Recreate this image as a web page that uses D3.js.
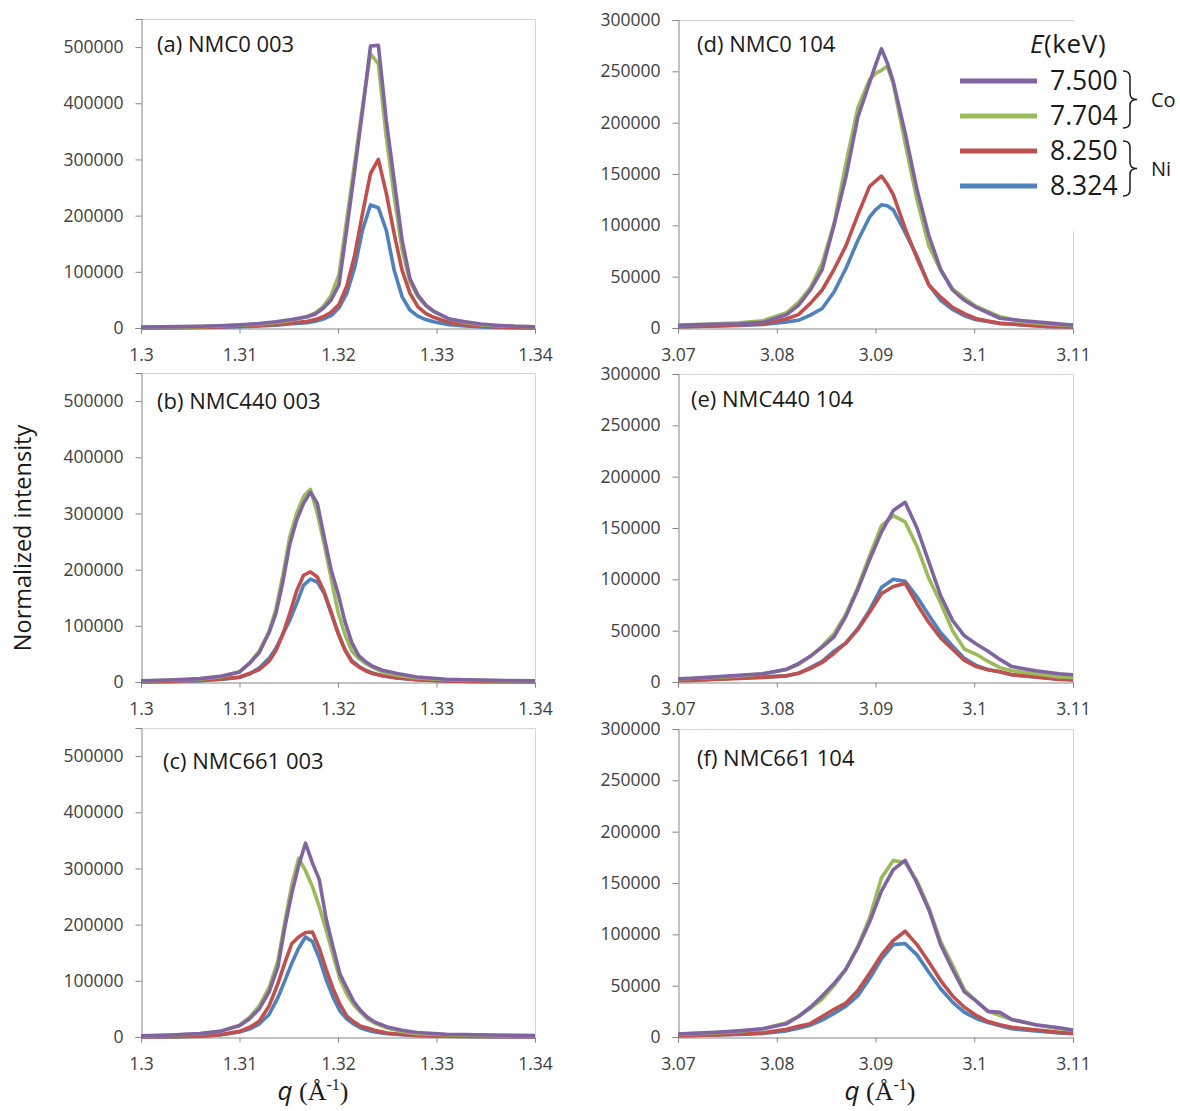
<!DOCTYPE html>
<html><head><meta charset="utf-8">
<script src="https://cdn.jsdelivr.net/npm/d3@7"></script>
<style>body{margin:0;background:#fff}svg{display:block}</style>
</head><body><svg id="chart" width="1180" height="1111"></svg>
<script>
// ---------- DATA ----------
const energies = ["7.500", "7.704", "8.250", "8.324"];
const seriesColors = ["#8064A2", "#9BBB59", "#C0504D", "#4F81BD"];

// (a) NMC0 003
const qA = [1.300,1.302,1.304,1.306,1.308,1.310,1.312,1.3137,1.3153,1.3169,1.3177,1.3185,1.3193,1.3201,1.3209,1.3217,1.3225,1.3233,1.3241,1.3249,1.3257,1.3265,1.3273,1.3281,1.3289,1.3297,1.3313,1.3329,1.3345,1.336,1.338,1.340];
const a7500 = [1500,2000,2500,3000,4000,5500,8000,11000,15000,20000,25000,35000,50000,77000,177000,281000,388000,502000,503000,370000,263000,157000,88000,59000,41000,30000,16000,11000,7000,5000,3000,2000];
const a7704 = [1000,2000,2000,2500,3500,5000,7000,10000,14000,21000,27000,38000,58000,95000,195000,295000,395000,488000,470000,340000,235000,140000,82000,56000,40000,29000,16000,10000,6000,4000,3000,2000];
const a8250 = [500,500,1000,1500,2000,3000,4500,6500,9000,12000,15000,20000,28000,42000,75000,130000,205000,275000,300000,240000,168000,103000,62000,38000,26000,19000,10000,6000,3500,2000,1000,500];
const a8324 = [0,500,500,1000,1500,2500,3500,5000,7500,9500,12000,16000,22000,36000,62000,108000,175000,219000,214000,174000,103000,56000,32000,21000,15000,11000,6000,3500,2000,1000,500,0];

// (b) NMC440 003
const qB = [1.300,1.303,1.306,1.308,1.310,1.311,1.312,1.313,1.3137,1.3144,1.3151,1.3158,1.3165,1.3172,1.3179,1.3186,1.3193,1.3200,1.3207,1.3214,1.3221,1.3228,1.3235,1.3245,1.3260,1.328,1.331,1.334,1.337,1.340];
const b7500 = [2000,3500,6000,10000,18000,33000,52000,88000,122000,178000,245000,288000,318000,338000,318000,258000,200000,158000,108000,70000,47000,36000,28000,21000,15000,9000,5000,3500,2500,2000];
const b7704 = [1500,3000,5000,9000,18000,33000,55000,90000,130000,190000,258000,300000,330000,343000,300000,245000,185000,125000,85000,55000,42000,33000,26000,18000,12000,7000,4000,3000,2000,1500];
const b8250 = [0,1000,3000,5000,9000,15000,22000,37000,56000,85000,122000,162000,190000,196000,187000,160000,125000,87000,57000,36000,27000,20000,15000,11000,7000,4000,2000,1000,500,500];
const b8324 = [0,1000,2500,4500,8000,14000,25000,42000,60000,85000,110000,140000,172000,183000,178000,158000,122000,88000,58000,38000,28000,21000,16000,11000,7000,4000,2000,1000,500,0];

// (c) NMC661 003
const qC = [1.300,1.303,1.306,1.308,1.310,1.311,1.312,1.313,1.3139,1.3146,1.3153,1.3160,1.3167,1.3174,1.3181,1.3188,1.3195,1.3202,1.3209,1.3216,1.3223,1.3230,1.3237,1.3250,1.3265,1.328,1.331,1.334,1.337,1.340];
const c7500 = [2000,3500,6000,10000,20000,32000,50000,80000,125000,195000,255000,305000,345000,310000,280000,210000,160000,112000,87000,63000,47000,35000,27000,18000,12000,8000,5000,4000,3000,2500];
const c7704 = [1500,3000,5500,10000,21000,35000,55000,88000,135000,205000,270000,318000,296000,268000,232000,190000,146000,103000,76000,57000,44000,32000,25000,16000,10000,6000,4000,3000,2500,2000];
const c8250 = [0,500,1500,4000,10000,17000,28000,55000,95000,132000,166000,178000,186000,187000,158000,120000,86000,58000,37000,27000,19000,16000,12000,7000,4500,3000,1500,1000,500,500];
const c8324 = [0,500,1500,3500,9000,14000,23000,40000,70000,100000,131000,158000,178000,170000,140000,102000,71000,46000,32000,23000,16000,12000,9000,6000,4000,2500,1500,1000,500,0];

// (d) NMC0 104
const qD = [3.0690,3.0714,3.0738,3.0762,3.0786,3.0810,3.0822,3.0834,3.0846,3.0858,3.0870,3.0882,3.0894,3.0900,3.0906,3.0912,3.0918,3.0930,3.0942,3.0954,3.0966,3.0978,3.0990,3.1002,3.1026,3.1050,3.1074,3.1098,3.1122];
const d7500 = [2500,3000,3500,4000,5500,13000,22000,37000,57000,100000,147000,205000,239000,256000,272000,258000,240000,190000,135000,90000,57000,37000,27000,20000,9500,7000,5000,3000,4000];
const d7704 = [2000,3000,4000,5000,7000,15000,25000,39000,63000,102000,160000,214000,242000,248000,251000,255000,238000,180000,125000,80000,56000,38000,29000,21000,11000,6000,4000,2500,2000];
const d8250 = [1000,1500,2000,3000,4000,9000,13000,24000,37000,57000,80000,110000,138000,143000,148000,140000,130000,97000,68000,42000,30000,20000,14000,9000,4500,3000,1500,1000,1000];
const d8324 = [1000,1500,2000,2500,3500,6000,7500,12500,19000,35000,58000,85000,108000,115000,120000,119000,115000,93000,70000,42000,27000,18000,12000,8000,4500,3000,1500,1000,1000];

// (e) NMC440 104 and (f) NMC661 104
const qE = [3.0690,3.0714,3.0738,3.0762,3.0786,3.0810,3.0822,3.0834,3.0846,3.0858,3.0870,3.0882,3.0894,3.0906,3.0918,3.0930,3.0942,3.0954,3.0966,3.0978,3.0990,3.1002,3.1014,3.1026,3.1038,3.1062,3.1086,3.1110];
const e7500 = [3000,3500,5000,6500,8000,12500,18000,25000,34000,44000,64000,90000,119000,146000,167000,175000,150000,117000,84000,60000,45000,37000,30000,22000,15000,11000,8000,6500];
const e7704 = [2500,3500,4500,6000,8000,12000,17000,25000,35000,47000,66000,92000,123000,152000,162000,156000,132000,101000,77000,50000,32000,27000,20000,14000,11000,8000,5000,4000];
const e8250 = [1000,1500,2500,3500,4500,6000,8500,13000,19000,28000,38000,51000,68000,86000,93000,96000,76000,58000,43000,32000,21000,15000,12000,10000,7000,5000,2500,1500];
const e8324 = [1500,2000,3000,4000,5000,6000,8500,14000,20000,30000,38000,52000,70000,92000,100000,98000,83000,65000,48000,35000,23000,16000,12000,10000,7000,5000,3000,2000];

const qF = qE;
const f7500 = [2500,3500,4500,6000,8000,13000,20000,29000,40000,52000,66000,87000,112000,142000,163000,172000,150000,124000,90000,66000,44000,35000,25000,24000,17000,12000,9000,5000];
const f7704 = [2000,3000,4000,5500,8000,14000,20000,28000,37000,50000,66000,88000,116000,155000,172000,170000,152000,126000,93000,70000,46000,35000,25000,21000,17000,12000,8000,5500];
const f8250 = [1000,1500,2000,3000,4000,7500,10500,13000,20000,27000,33000,45000,62000,80000,94000,103000,90000,73000,55000,40000,29000,21000,15000,12000,9500,7000,4500,3000];
const f8324 = [1000,1500,2000,2500,3500,6000,8500,11500,16500,23000,30000,40000,57000,76000,90000,91000,80000,63000,47000,34000,24000,18000,14000,11000,8000,6000,4000,2500];

// axes
const xTicks003 = [1.30, 1.31, 1.32, 1.33, 1.34];
const xTickLabels003 = ["1.3", "1.31", "1.32", "1.33", "1.34"];
const xTicks104 = [3.07, 3.08, 3.09, 3.10, 3.11];
const xTickLabels104 = ["3.07", "3.08", "3.09", "3.1", "3.11"];
const yTicks003 = [0, 100000, 200000, 300000, 400000, 500000];
const yTicks104 = [0, 50000, 100000, 150000, 200000, 250000, 300000];

// ---------- LAYOUT ----------
const FONT = "'Open Sans', 'Liberation Sans', sans-serif";
const cols = [
  {x0: 141, x1: 535, dom: [1.30, 1.34], xt: xTicks003, xl: xTickLabels003, ymax: 550000, yt: yTicks003, h: 309},
  {x0: 678, x1: 1073, dom: [3.07, 3.11], xt: xTicks104, xl: xTickLabels104, ymax: 300000, yt: yTicks104, h: 308}
];
const rowBottoms = [328, 682, 1037];

const panels = [
  {t: "(a) NMC0 003",   c: 0, r: 0, q: qA, s: [a7500, a7704, a8250, a8324], tx: 157, ty: 52},
  {t: "(b) NMC440 003", c: 0, r: 1, q: qB, s: [b7500, b7704, b8250, b8324], tx: 157, ty: 409},
  {t: "(c) NMC661 003", c: 0, r: 2, q: qC, s: [c7500, c7704, c8250, c8324], tx: 163, ty: 769},
  {t: "(d) NMC0 104",   c: 1, r: 0, q: qD, s: [d7500, d7704, d8250, d8324], tx: 697, ty: 52},
  {t: "(e) NMC440 104", c: 1, r: 1, q: qE, s: [e7500, e7704, e8250, e8324], tx: 691, ty: 407},
  {t: "(f) NMC661 104", c: 1, r: 2, q: qF, s: [f7500, f7704, f8250, f8324], tx: 697, ty: 766}
];
const drawOrder = [3, 2, 1, 0];

const svg = d3.select("#chart");
svg.append("rect").attr("width", 1180).attr("height", 1111).attr("fill", "#fff");
const defs = svg.append("defs");

panels.forEach((p, i) => {
  const col = cols[p.c];
  const yb = rowBottoms[p.r];
  const yt = yb - col.h;
  const x = d3.scaleLinear().domain(col.dom).range([col.x0, col.x1]);
  const y = d3.scaleLinear().domain([0, col.ymax]).range([yb, yt]);
  const g = svg.append("g");

  g.append("path")
    .attr("d", `M${col.x0},${yt + 0.5}H${col.x1 + 0.5}V${yb}`)
    .attr("fill", "none").attr("stroke", "#d4d4d4").attr("stroke-width", 1);

  const ya = g.append("g").attr("transform", `translate(${col.x0 + 0.5},0)`)
    .call(d3.axisLeft(y).tickValues(col.yt).tickSize(6).tickPadding(12).tickFormat(d3.format("d")));
  const xa = g.append("g").attr("transform", `translate(0,${yb + 0.5})`)
    .call(d3.axisBottom(x).tickValues(col.xt).tickSize(5).tickPadding(15)
      .tickFormat((d, k) => col.xl[k]));
  [ya, xa].forEach(a => {
    a.select(".domain").attr("stroke", "#868686");
    a.selectAll(".tick line").attr("stroke", "#868686");
    a.selectAll("text").attr("font-family", FONT).attr("font-size", 17.5).attr("fill", "#404040");
  });

  defs.append("clipPath").attr("id", "clip" + i).append("rect")
    .attr("x", col.x0).attr("y", yt).attr("width", col.x1 - col.x0).attr("height", yb - yt + 2);

  const line = d3.line().x(d => x(d[0])).y(d => y(d[1]));
  const lg = g.append("g").attr("clip-path", `url(#clip${i})`);
  drawOrder.forEach(si => {
    const pts = p.q.map((qq, k) => [qq, p.s[si][k]]);
    lg.append("path").attr("d", line(pts))
      .attr("fill", "none").attr("stroke", seriesColors[si])
      .attr("stroke-width", 3.6).attr("stroke-linejoin", "round");
  });

  g.append("text").attr("x", p.tx).attr("y", p.ty).text(p.t)
    .attr("font-family", FONT).attr("font-size", 22).attr("fill", "#1a1a1a");
});

// y axis title
svg.append("text").attr("transform", "translate(31,538) rotate(-90)")
  .attr("text-anchor", "middle").attr("font-family", FONT).attr("font-size", 23.5)
  .attr("fill", "#1a1a1a").text("Normalized intensity");

// x axis titles
[313, 880].forEach(cx => {
  const t = svg.append("text").attr("x", cx).attr("y", 1100).attr("text-anchor", "middle")
    .attr("fill", "#1a1a1a").attr("font-size", 26);
  t.append("tspan").attr("font-family", FONT).attr("font-style", "italic").text("q");
  t.append("tspan").attr("font-family", "'Liberation Serif', serif").text(" (Å");
  t.append("tspan").attr("font-family", "'Liberation Serif', serif").attr("font-size", 16).attr("dy", -10).text("-1");
  t.append("tspan").attr("font-family", "'Liberation Serif', serif").attr("dy", 10).text(")");
});

// legend
const lg = svg.append("g");
lg.append("rect").attr("x", 948).attr("y", 22).attr("width", 190).attr("height", 209).attr("fill", "#fff");
const lt = lg.append("text").attr("x", 1030).attr("y", 53).attr("font-family", FONT)
  .attr("font-size", 26).attr("fill", "#1a1a1a").attr("letter-spacing", 0.6);
lt.append("tspan").attr("font-style", "italic").text("E");
lt.append("tspan").text("(keV)");
const legY = d3.scalePoint().domain(energies).range([81, 186]);
energies.forEach((e, k) => {
  lg.append("line").attr("x1", 960).attr("x2", 1037).attr("y1", legY(e)).attr("y2", legY(e))
    .attr("stroke", seriesColors[k]).attr("stroke-width", 5);
  lg.append("text").attr("x", 1050).attr("y", legY(e) + 9).text(e)
    .attr("font-family", FONT).attr("font-size", 26.5).attr("fill", "#1a1a1a");
});
function brace(y0, y1) {
  const xm = 1130, ym = (y0 + y1) / 2;
  return `M1123,${y0}Q${xm},${y0} ${xm},${y0 + 6}L${xm},${ym - 6}Q${xm},${ym} ${xm + 7},${ym}` +
         `Q${xm},${ym} ${xm},${ym + 6}L${xm},${y1 - 6}Q${xm},${y1} 1123,${y1}`;
}
const groups = [{lab: "Co", y0: 71, y1: 128}, {lab: "Ni", y0: 141, y1: 196}];
groups.forEach(gr => {
  lg.append("path").attr("d", brace(gr.y0, gr.y1)).attr("fill", "none")
    .attr("stroke", "#1a1a1a").attr("stroke-width", 1.5);
  lg.append("text").attr("x", 1151).attr("y", (gr.y0 + gr.y1) / 2 + 7).text(gr.lab)
    .attr("font-family", FONT).attr("font-size", 20).attr("fill", "#1a1a1a");
});
</script></body></html>
